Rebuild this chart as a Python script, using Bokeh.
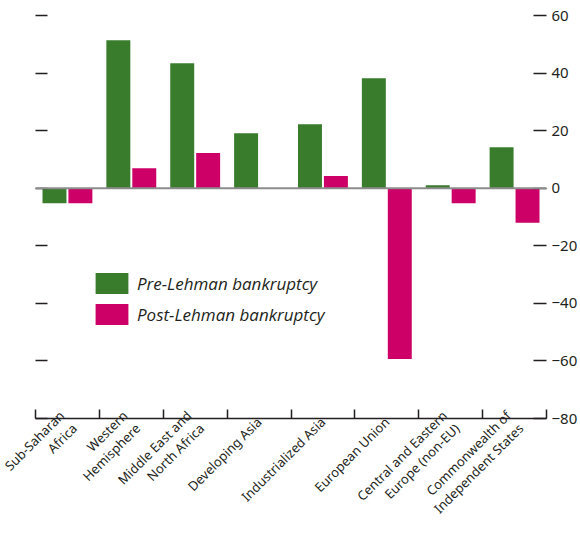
from bokeh.plotting import figure
from bokeh.models import (ColumnDataSource, FixedTicker, LinearAxis, Range1d, Span, Legend, LegendItem)
from bokeh.embed import file_html
from bokeh.resources import INLINE

regions = ["Sub-Saharan\nAfrica", "Western\nHemisphere", "Middle East and\nNorth Africa",
           "Developing Asia", "Industrialized Asia", "European Union",
           "Central and Eastern\nEurope (non-EU)", "Commonwealth of\nIndependent States"]
pre_lehman = [-5.2, 51.4, 43.4, 19.1, 22.2, 38.2, 1.0, 14.2]
post_lehman = [-5.2, 6.9, 12.2, -0.3, 4.2, -59.3, -5.2, -12.0]
y_ticks = [60, 40, 20, 0, -20, -40, -60, -80]

GREEN = "#387c2c"
MAGENTA = "#cc0066"
FONT = "Noto Sans"

n = len(regions)
centers = [i + 0.5 for i in range(n)]
src = ColumnDataSource(dict(
    xg=[c - 0.203 for c in centers],
    xm=[c + 0.203 for c in centers],
    pre=pre_lehman,
    post=post_lehman,
))

p = figure(width=580, height=533, output_backend="svg", toolbar_location=None,
           x_range=Range1d(0, n), y_range=Range1d(-80, 60),
           x_axis_location=None, y_axis_location=None,
           min_border_left=35, min_border_right=32, min_border_top=15, min_border_bottom=115)
p.outline_line_color = None
p.grid.visible = False
p.background_fill_color = None
p.border_fill_color = "white"

g = p.vbar(x="xg", top="pre", bottom=0, width=0.375, source=src,
           fill_color=GREEN, line_color=None)
m = p.vbar(x="xm", top="post", bottom=0, width=0.375, source=src,
           fill_color=MAGENTA, line_color=None)

p.add_layout(Span(location=0, dimension="width", line_color="#8c8c8c", line_width=2))

left = LinearAxis(ticker=FixedTicker(ticks=y_ticks, minor_ticks=[]),
                  major_label_overrides={t: "" for t in y_ticks},
                  axis_line_color=None, major_tick_in=12, major_tick_out=0,
                  major_tick_line_color="#231f20", major_tick_line_width=1.5,
                  minor_tick_line_color=None, major_label_standoff=0)
p.add_layout(left, "left")

right = LinearAxis(ticker=FixedTicker(ticks=y_ticks, minor_ticks=[]),
                   major_label_overrides={t: (str(t).replace("-", "\u2212")) for t in y_ticks},
                   axis_line_color=None, major_tick_in=13, major_tick_out=0,
                   major_tick_line_color="#231f20", major_tick_line_width=1.5,
                   minor_tick_line_color=None, major_label_standoff=5,
                   major_label_text_font=FONT, major_label_text_font_size="15px",
                   major_label_text_color="#231f20")
p.add_layout(right, "right")

bottom = LinearAxis(ticker=FixedTicker(ticks=centers, minor_ticks=list(range(n + 1))),
                    major_label_overrides={c: r for c, r in zip(centers, regions)},
                    axis_line_color="#231f20", axis_line_width=1.5,
                    major_tick_in=0, major_tick_out=0,
                    minor_tick_in=9, minor_tick_out=0,
                    minor_tick_line_color="#231f20", minor_tick_line_width=1.5,
                    major_label_orientation=0.785398, major_label_standoff=1,
                    major_label_text_font=FONT, major_label_text_font_size="13px",
                    major_label_text_line_height=1.0,
                    major_label_text_color="#231f20")
p.add_layout(bottom, "below")

legend = Legend(items=[LegendItem(label="Pre-Lehman bankruptcy", renderers=[g]),
                       LegendItem(label="Post-Lehman bankruptcy", renderers=[m])],
                location=(56, 91), glyph_width=41, glyph_height=26, spacing=5,
                label_standoff=5, padding=0, margin=0, border_line_color=None,
                background_fill_alpha=0, label_text_font="Open Sans",
                label_text_font_style="italic", label_text_font_size="17px",
                label_text_color="#231f20", label_height=26)
p.add_layout(legend, "center")

open("out.html", "w").write(file_html(p, INLINE))
